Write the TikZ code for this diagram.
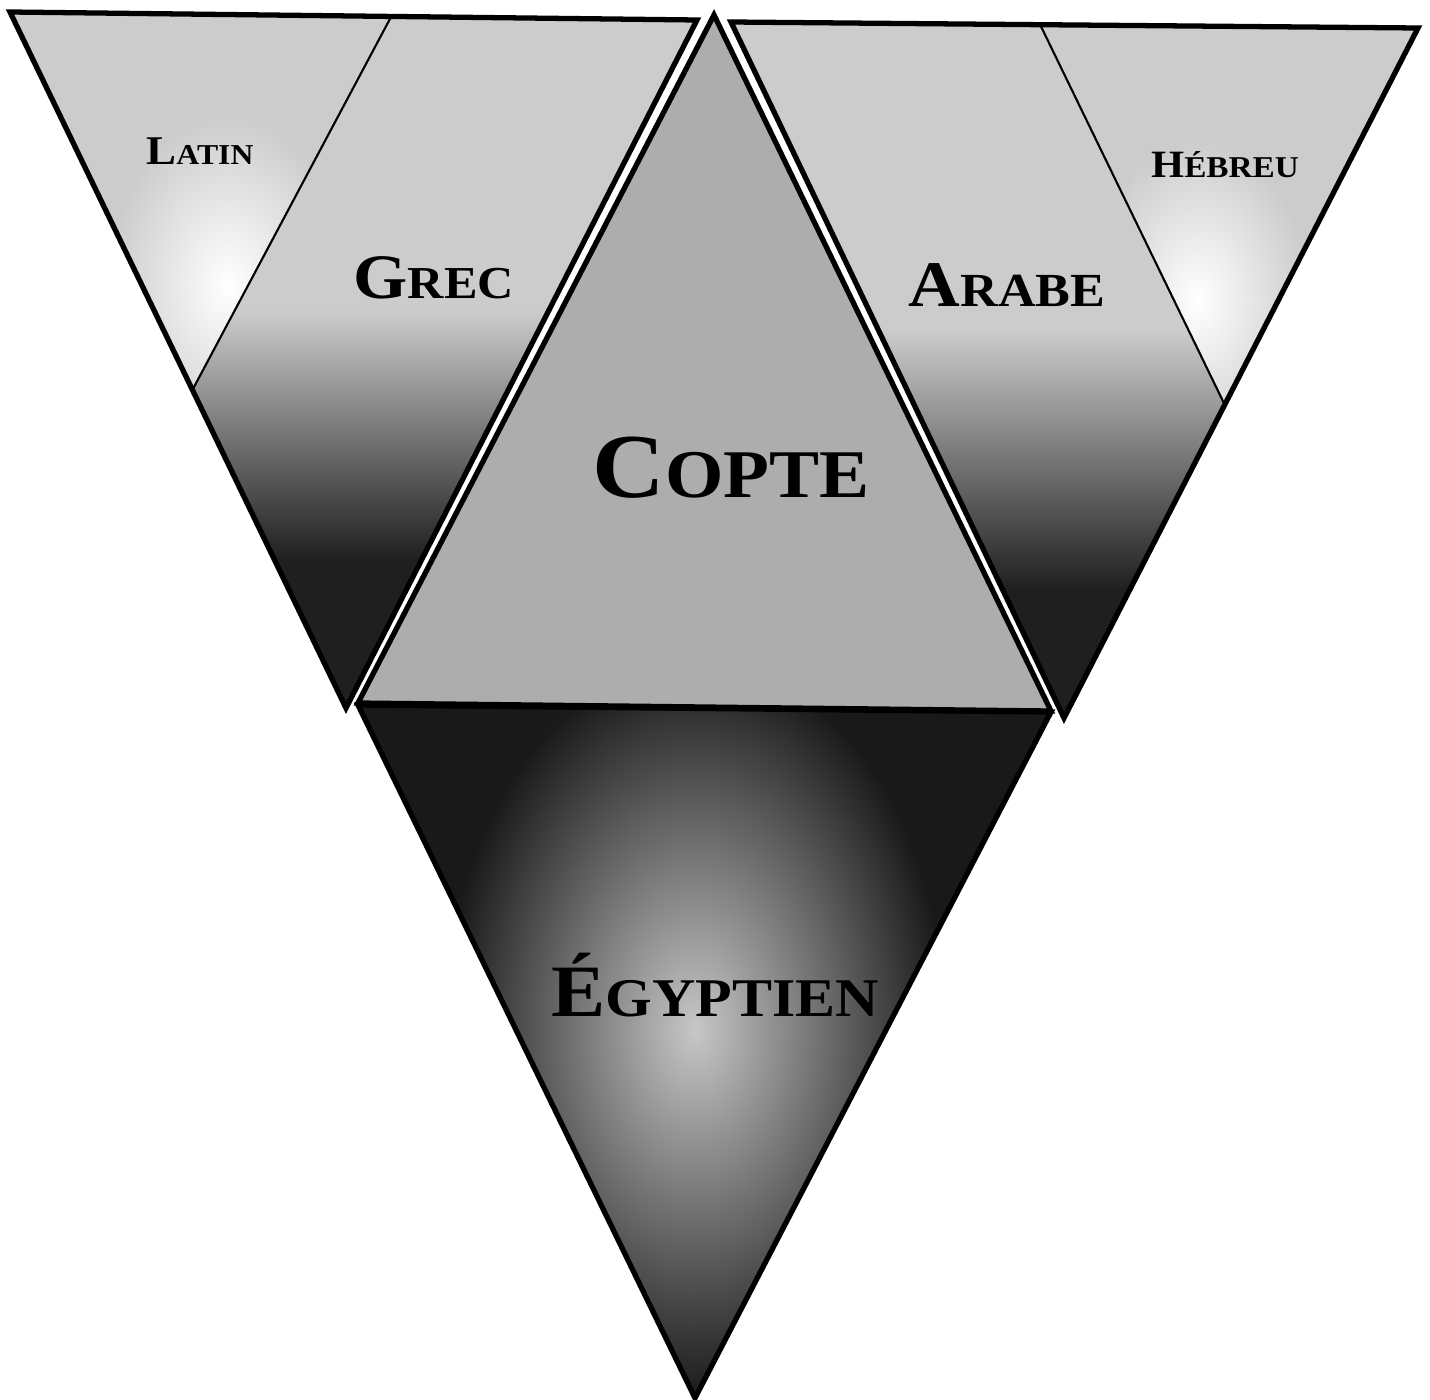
\documentclass[tikz,border=0pt]{standalone}
\usepackage{fontspec}
\setmainfont{Liberation Serif}
\newfontfamily\labelfont[FakeStretch=1.1]{Liberation Serif}
\usetikzlibrary{calc}
\colorlet{pale}{black!20}
\colorlet{copte gray}{black!32}
\colorlet{deep}{black!88}
\newcommand\scword[4]{{\fontsize{#1}{#1}\selectfont #3}{\fontsize{#2}{#2}\selectfont #4}}
\tikzset{
  lang border/.style={draw=black,line width=1.5pt,line join=miter},
  lang cut/.style={draw=black,line width=0.6pt},
  lang label/.style={font=\labelfont\bfseries,anchor=base,inner sep=0pt,
    text=black}
}

\begin{document}
\begin{tikzpicture}[x=0.01cm,y=-0.01cm]
    \useasboundingbox (0,0) rectangle (1430,1400);
    % corners (pixel grid of the page)
    \coordinate (wtop) at (10,12);
    \coordinate (wmid) at (697,20);
    \coordinate (wapex) at (346,708);
    \coordinate (cpeak) at (714,15);
    \coordinate (cleft) at (358,703);
    \coordinate (cright) at (1051,711);
    \coordinate (emid) at (731,22);
    \coordinate (etop) at (1418,28);
    \coordinate (eapex) at (1064,718);
    \coordinate (sleft) at (358,705);
    \coordinate (sright) at (1051,712);
    \coordinate (sapex) at (695,1398);
    \coordinate (wcut1) at ($(wtop)!0.555!(wmid)$);
    \coordinate (wcut2) at ($(wtop)!0.543!(wapex)$);
    \coordinate (ecut1) at ($(emid)!0.45!(etop)$);
    \coordinate (ecut2) at ($(etop)!0.546!(eapex)$);

    % latin
    \fill[pale] (wtop) -- (wcut1) -- (wcut2) -- cycle;
    \begin{scope}
      \clip (wtop) -- (wcut1) -- (wcut2) -- cycle;
      \shade[inner color=white,outer color=pale] (228,285) ellipse (120 and 170);
    \end{scope}
    % grec
    \begin{scope}
      \clip (wcut1) -- (wmid) -- (wapex) -- (wcut2) -- cycle;
      \fill[pale] (0,0) rectangle (720,310);
      \shade[top color=pale,bottom color=deep] (0,310) rectangle (720,560);
      \fill[deep] (0,560) rectangle (720,720);
    \end{scope}
    % copte
    \fill[copte gray] (cpeak) -- (cright) -- (cleft) -- cycle;
    % arabe
    \begin{scope}
      \clip (emid) -- (ecut1) -- (ecut2) -- (eapex) -- cycle;
      \fill[pale] (700,0) rectangle (1430,330);
      \shade[top color=pale,bottom color=deep] (700,330) rectangle (1430,590);
      \fill[deep] (700,590) rectangle (1430,730);
    \end{scope}
    % hebreu
    \fill[pale] (ecut1) -- (etop) -- (ecut2) -- cycle;
    \begin{scope}
      \clip (ecut1) -- (etop) -- (ecut2) -- cycle;
      \shade[inner color=white,outer color=pale] (1198,300) ellipse (110 and 160);
    \end{scope}
    % egyptien
    \fill[black!90] (sleft) -- (sright) -- (sapex) -- cycle;
    \begin{scope}
      \clip (sleft) -- (sright) -- (sapex) -- cycle;
      \shade[inner color=black!22,outer color=black!90] (695,1030) ellipse (250 and 370);
    \end{scope}

    % outlines
    \draw[lang cut] (wcut1) -- (wcut2);
    \draw[lang cut] (ecut1) -- (ecut2);
    \draw[lang border] (wtop) -- (wmid) -- (wapex) -- cycle;
    \draw[lang border] (emid) -- (etop) -- (eapex) -- cycle;
    \draw[lang border] (sleft) -- (sright) -- (sapex) -- cycle;
    \draw[lang border] (cpeak) -- (cright) -- (cleft) -- cycle;

    \node[lang label] (latin) at (200,165) {\scword{11.6pt}{8.2pt}{L}{ATIN}};
    \node[lang label] (grec) at (434,298) {\scword{18pt}{13pt}{G}{REC}};
    \node[lang label] (copte) at (731,497) {\scword{26pt}{19.4pt}{C}{OPTE}};
    \node[lang label] (arabe) at (1007,307) {\scword{18.5pt}{13.5pt}{A}{RABE}};
    \node[lang label] (hebreu) at (1225,178) {\scword{11pt}{8.6pt}{H}{ÉBREU}};
    \node[lang label] (egyptien) at (715,1016) {\scword{21pt}{15.5pt}{É}{GYPTIEN}};
  \end{tikzpicture}
\end{document}
